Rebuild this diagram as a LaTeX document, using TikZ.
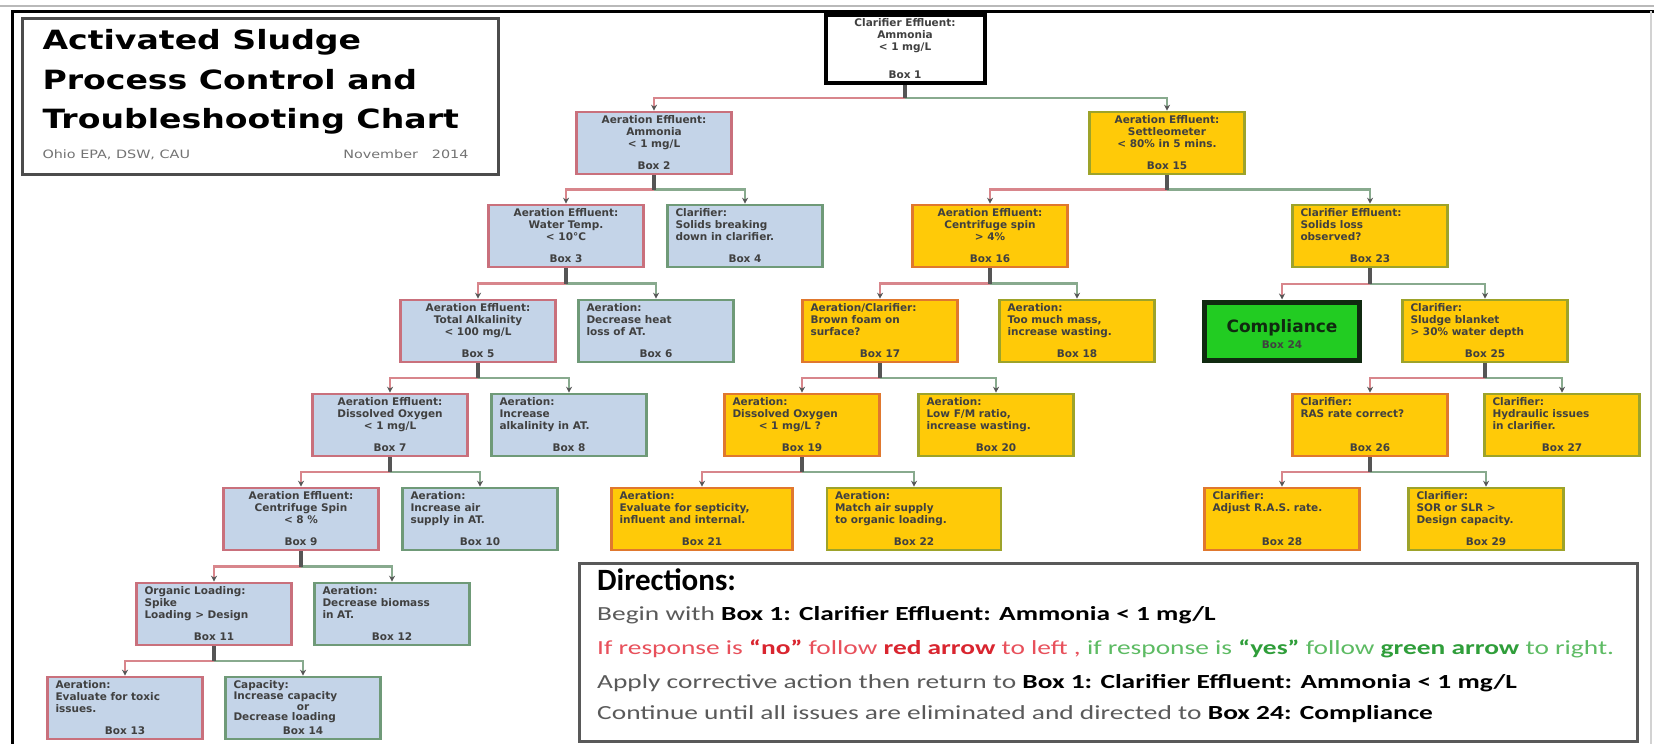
\documentclass[tikz,border=0pt]{standalone}
\usepackage{fontspec}
\setmainfont{DejaVu Sans}
\newfontfamily\titlefont{DejaVu Sans}[FakeStretch=1.25]
\newfontfamily\dirfont{Carlito}[FakeStretch=1.37]
\newfontfamily\dirheadfont{Carlito}
\usetikzlibrary{arrows.meta,calc}

\definecolor{BlueFill}{HTML}{C4D4E8}
\definecolor{NoEdge}{HTML}{C9707C}
\definecolor{YesEdge}{HTML}{6F9A78}
\definecolor{GoldFill}{HTML}{FFCA08}
\definecolor{GoldNo}{HTML}{E0782E}
\definecolor{GoldYes}{HTML}{9DA32A}
\definecolor{DoneFill}{HTML}{22CC22}
\definecolor{DoneEdge}{HTML}{102A10}
\definecolor{NoLine}{HTML}{D8868C}
\definecolor{YesLine}{HTML}{88AA8E}
\definecolor{StemGray}{HTML}{555555}
\definecolor{DirGray}{HTML}{5A5A5A}
\definecolor{DirRed}{HTML}{E8505B}
\definecolor{DirRedB}{HTML}{D9252F}
\definecolor{DirGreen}{HTML}{5DBB63}
\definecolor{DirGreenB}{HTML}{2F9E3A}

\newcommand{\BoxH}{54pt}
% box text: lines on top, box number at the bottom
\newcommand{\QL}[3][139pt]{\parbox[c][\BoxH][t]{#1}{\raggedright #2\par\vfill\centering Box #3\par}}
\newcommand{\QC}[3][139pt]{\parbox[c][\BoxH][t]{#1}{\centering #2\par\vfill Box #3\par}}

\tikzset{
  qbox/.style={rectangle, line width=2.6pt, inner xsep=8pt, inner ysep=4pt,
    font=\fontsize{10.5}{11.6}\selectfont\bfseries, text=black!75},
  bluered/.style={qbox, draw=NoEdge, fill=BlueFill},
  bluegreen/.style={qbox, draw=YesEdge, fill=BlueFill},
  goldred/.style={qbox, draw=GoldNo, fill=GoldFill},
  goldgreen/.style={qbox, draw=GoldYes, fill=GoldFill},
  startbox/.style={qbox, draw=black, line width=4pt, fill=white},
  donebox/.style={qbox, draw=DoneEdge, line width=5pt, fill=DoneFill},
  nolink/.style={draw=NoLine, line width=2.5pt, -{Stealth[length=6pt,width=6pt,color=StemGray]}},
  yeslink/.style={draw=YesLine, line width=2.5pt, -{Stealth[length=6pt,width=6pt,color=StemGray]}},
  stem/.style={draw=StemGray, line width=3.5pt},
  titlebox/.style={draw=black!70, line width=3pt, fill=white, inner xsep=20pt, inner ysep=8pt},
  dirbox/.style={draw=black!65, line width=3pt, fill=white, minimum width=1058pt, minimum height=178pt},
  dirline/.style={anchor=west, inner sep=0pt, font=\dirfont\fontsize{20}{24}\selectfont, text=DirGray}
}

\begin{document}
\begin{tikzpicture}[x=1pt,y=-1pt]
  \useasboundingbox (0,0) rectangle (1654,744);
  % frame
  \draw[gray!55, line width=2pt] (0,6) -- (1654,6);
  \draw[black, line width=3pt] (12,744) -- (12,11) -- (1654,11);
  \draw[gray!35, line width=1.5pt] (1651,11) -- (1651,744);

  % title
  \node[titlebox, anchor=north west] (title) at (21,17) {\parbox[c][140pt][t]{436pt}{%
    \titlefont\vspace*{3pt}\fontsize{26.5}{39.5}\selectfont\bfseries Activated Sludge\\ Process Control and\\ Troubleshooting Chart\par
    \vfill\fontsize{11.5}{13}\selectfont\mdseries\color{black!55}%
    Ohio EPA, DSW, CAU\hfill November\hspace{1.2em}2014\hspace*{10pt}\par\vspace*{7pt}}};

  % row 0 and 1
  \node[startbox, execute at begin node=\def\BoxH{60pt}] (b1) at (905,49)
    {\QC[143pt]{Clarifier Effluent:\\ Ammonia\\ < 1 mg/L}{1}};
  \node[bluered] (b2) at (654,143) {\QC{Aeration Effluent:\\ Ammonia\\ < 1 mg/L}{2}};
  \node[goldgreen] (b15) at (1167,143) {\QC{Aeration Effluent:\\ Settleometer\\ < 80\% in 5 mins.}{15}};

  % row 2
  \node[bluered] (b3) at (566,236) {\QC{Aeration Effluent:\\ Water Temp.\\ < 10°C}{3}};
  \node[bluegreen] (b4) at (745,236) {\QL{Clarifier:\\ Solids breaking\\ down in clarifier.}{4}};
  \node[goldred] (b16) at (990,236) {\QC{Aeration Effluent:\\ Centrifuge spin\\ > 4\%}{16}};
  \node[goldgreen] (b23) at (1370,236) {\QL{Clarifier Effluent:\\ Solids loss\\ observed?}{23}};

  % row 3
  \node[bluered] (b5) at (478,331) {\QC{Aeration Effluent:\\ Total Alkalinity\\ < 100 mg/L}{5}};
  \node[bluegreen] (b6) at (656,331) {\QL{Aeration:\\ Decrease heat\\ loss of AT.}{6}};
  \node[goldred] (b17) at (880,331) {\QL{Aeration/Clarifier:\\ Brown foam on\\ surface?}{17}};
  \node[goldgreen] (b18) at (1077,331) {\QL{Aeration:\\ Too much mass,\\ increase wasting.}{18}};
  \node[donebox, inner ysep=3pt] (b24) at (1282,331) {\parbox[c][52pt][c]{139pt}{\centering
    \vspace*{6pt}{\fontsize{17}{20}\selectfont\color{DoneEdge}Compliance}\par\vspace{4pt}Box 24}};
  \node[goldgreen] (b25) at (1485,331) {\QL[149pt]{Clarifier:\\ Sludge blanket\\ > 30\% water depth}{25}};

  % row 4
  \node[bluered] (b7) at (390,425) {\QC{Aeration Effluent:\\ Dissolved Oxygen\\ < 1 mg/L}{7}};
  \node[bluegreen] (b8) at (569,425) {\QL{Aeration:\\ Increase\\ alkalinity in AT.}{8}};
  \node[goldred] (b19) at (802,425) {\QL{Aeration:\\ Dissolved Oxygen\\ \hspace*{2.5em}< 1 mg/L ?}{19}};
  \node[goldgreen] (b20) at (996,425) {\QL{Aeration:\\ Low F/M ratio,\\ increase wasting.}{20}};
  \node[goldred] (b26) at (1370,425) {\QL{Clarifier:\\ RAS rate correct?}{26}};
  \node[goldgreen] (b27) at (1562,425) {\QL{Clarifier:\\ Hydraulic issues\\ in clarifier.}{27}};

  % row 5
  \node[bluered] (b9) at (301,519) {\QC{Aeration Effluent:\\ Centrifuge Spin\\ < 8 \%}{9}};
  \node[bluegreen] (b10) at (480,519) {\QL{Aeration:\\ Increase air\\ supply in AT.}{10}};
  \node[goldred] (b21) at (702,519) {\QL[165pt]{Aeration:\\ Evaluate for septicity,\\ influent and internal.}{21}};
  \node[goldgreen] (b22) at (914,519) {\QL[158pt]{Aeration:\\ Match air supply\\ to organic loading.}{22}};
  \node[goldred] (b28) at (1282,519) {\QL{Clarifier:\\ Adjust R.A.S. rate.}{28}};
  \node[goldgreen] (b29) at (1486,519) {\QL{Clarifier:\\ SOR or SLR >\\ Design capacity.}{29}};

  % rows 6 and 7
  \node[bluered] (b11) at (214,614) {\QL{Organic Loading:\\ Spike\\ Loading > Design}{11}};
  \node[bluegreen] (b12) at (392,614) {\QL{Aeration:\\ Decrease biomass\\ in AT.}{12}};
  \node[bluered] (b13) at (125,708) {\QL{Aeration:\\ Evaluate for toxic\\ issues.}{13}};
  \node[bluegreen, font=\fontsize{10.5}{10.6}\selectfont\bfseries] (b14) at (303,708)
    {\QL{Capacity:\\ Increase capacity\\ \centering or\\ \raggedright Decrease loading}{14}};

  % red to the left, green to the right
  \foreach \P/\L/\R in {b1/b2/b15, b2/b3/b4, b3/b5/b6, b5/b7/b8, b7/b9/b10, b9/b11/b12,
      b11/b13/b14, b15/b16/b23, b16/b17/b18, b17/b19/b20, b19/b21/b22, b23/b24/b25,
      b25/b26/b27, b26/b28/b29} {
    \coordinate (\P-j) at ($(\P.south)!.5!(\P.south |- \L.north)$);
    \draw[nolink] (\P-j) -| (\L.north);
    \draw[yeslink] (\P-j) -| (\R.north);
    \draw[stem] (\P.south) -- (\P-j);
  }

  % directions
  \node[dirbox, anchor=north west] (dirs) at (578,562) {};
  \node[dirline, text=black, font=\dirheadfont\bfseries\fontsize{31}{34}\selectfont] (d0) at (597,580) {Directions:};
  \node[dirline] (d1) at (597,615) {Begin with \textbf{\color{black}Box 1: Clarifier Effluent: Ammonia < 1 mg/L}};
  \node[dirline, text=DirRed] (d2) at (597,649) {If response is \textbf{\color{DirRedB}“no”} follow
    \textbf{\color{DirRedB}red arrow} to left , {\color{DirGreen}if response is \textbf{\color{DirGreenB}“yes”}
    follow \textbf{\color{DirGreenB}green arrow} to right.}};
  \node[dirline] (d3) at (597,683) {Apply corrective action then return to \textbf{\color{black}Box 1: Clarifier Effluent: Ammonia < 1 mg/L}};
  \node[dirline] (d4) at (597,714) {Continue until all issues are eliminated and directed to \textbf{\color{black}Box 24: Compliance}};
\end{tikzpicture}
\end{document}
